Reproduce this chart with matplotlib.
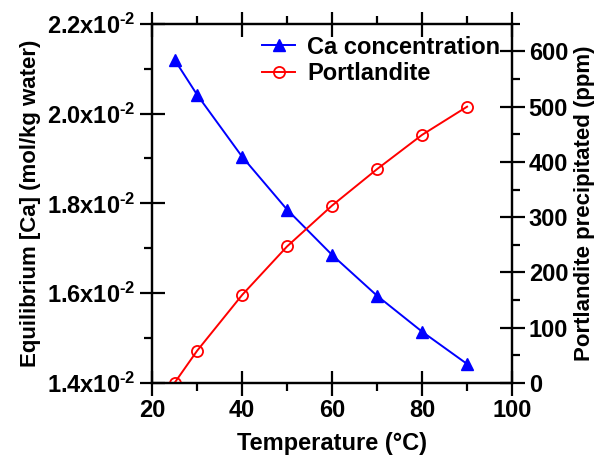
import matplotlib.pyplot as plt
from matplotlib.ticker import MultipleLocator, FuncFormatter

plt.rcParams['font.family'] = 'Liberation Sans'
plt.rcParams['font.weight'] = 'bold'
plt.rcParams['mathtext.fontset'] = 'custom'
plt.rcParams['mathtext.rm'] = 'Liberation Sans:bold'
plt.rcParams['mathtext.it'] = 'Liberation Sans:bold'
plt.rcParams['mathtext.bf'] = 'Liberation Sans:bold'
plt.rcParams['mathtext.default'] = 'bf'

# Temperatura (°C)
temps = [25, 30, 40, 50, 60, 70, 80, 90]
# Stezenie Ca (mol/kg wody)
ca_conc = [2.120e-2, 2.042e-2, 1.904e-2, 1.786e-2, 1.685e-2, 1.594e-2, 1.514e-2, 1.442e-2]
# Wytracony portlandyt (ppm)
portlandite = [0, 58, 159, 247, 321, 387, 449, 500]

fig = plt.figure(figsize=(6.06, 4.59), dpi=100)
ax = fig.add_axes([0.251, 0.166, 0.594, 0.782])
ax2 = ax.twinx()

l1, = ax.plot(temps, ca_conc, color='blue', marker='^', markersize=8, linewidth=1.4,
              label='Ca concentration')
l2, = ax2.plot(temps, portlandite, color='red', marker='o', markersize=8, markerfacecolor='none',
               markeredgewidth=1.3, linewidth=1.4, label='Portlandite')

ax.set_xlim(20, 100)
ax.set_ylim(1.4e-2, 2.2e-2)
ax2.set_ylim(0, 650)

ax.xaxis.set_major_locator(MultipleLocator(20))
ax.xaxis.set_minor_locator(MultipleLocator(10))
ax.yaxis.set_major_locator(MultipleLocator(0.2e-2))
ax.yaxis.set_minor_locator(MultipleLocator(0.1e-2))
ax2.yaxis.set_major_locator(MultipleLocator(100))
ax2.yaxis.set_minor_locator(MultipleLocator(50))

ax.yaxis.set_major_formatter(FuncFormatter(lambda v, p: '%.1fx10$^{\\text{-}2}$' % (v * 100)))

fs = 17
ax.tick_params(axis='x', which='major', direction='inout', length=18, width=1.6,
               top=True, labelsize=fs, pad=3)
ax.tick_params(axis='x', which='minor', direction='out', length=6, width=1.6, top=True)
ax.tick_params(axis='y', which='major', direction='inout', length=18, width=1.6, labelsize=fs, pad=3)
ax.tick_params(axis='y', which='minor', direction='out', length=6, width=1.6)
ax2.tick_params(axis='y', which='major', direction='inout', length=18, width=1.6, labelsize=fs, pad=3)
ax2.tick_params(axis='y', which='minor', direction='out', length=6, width=1.6)

for a in (ax, ax2):
    for s in a.spines.values():
        s.set_linewidth(1.6)

ax.set_xlabel('Temperature (°C)', fontsize=fs, fontweight='bold', labelpad=7)
ax.set_ylabel('Equilibrium [Ca] (mol/kg water)', fontsize=16, fontweight='bold', labelpad=4)
ax2.set_ylabel('Portlandite precipitated (ppm)', fontsize=16, fontweight='bold', labelpad=4)

ax.legend(handles=[l1, l2], loc='upper right', frameon=False, fontsize=fs,
          handlelength=1.4, borderaxespad=0.1, labelspacing=0.15, handletextpad=0.5)

fig.savefig('out.png', dpi=100)
